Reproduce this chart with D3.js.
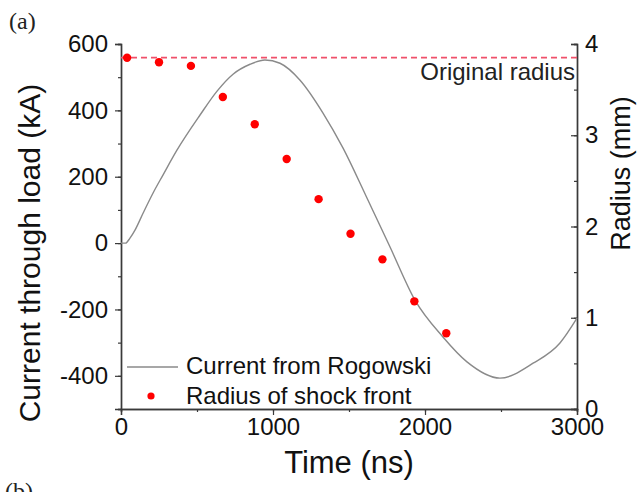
<!DOCTYPE html>
<html>
<head>
<meta charset="utf-8">
<script src="https://cdn.jsdelivr.net/npm/d3@7"></script>
<style>
  body { margin: 0; background: #fff; }
  svg { display: block; font-family: 'Liberation Sans', Arial, sans-serif; }
</style>
</head>
<body>
<svg id="chart" width="643" height="492"></svg>
<script>
// Rogowski current trace
var timeNs = [0, 30, 59, 92, 145, 211, 276, 368, 520, 632, 737, 849, 947, 1046, 1178, 1329, 1461, 1612,
  1770, 1934, 2118, 2276, 2493, 2711, 2888, 3000];
var currentKA = [0, 0, 15, 39, 90, 151, 205, 280, 386, 458, 509, 539, 552, 542, 491, 392, 286, 142,
  -12, -172, -283, -358, -407, -362, -301, -226];

// shock front radius
var shockTime = [40, 250, 460, 670, 880, 1090, 1300, 1510, 1720, 1930, 2140];
var shockRadius = [3.85, 3.80, 3.76, 3.42, 3.12, 2.74, 2.30, 1.92, 1.64, 1.18, 0.83];

var originalRadius = 3.85;

var xTicks = [0, 1000, 2000, 3000];
var yTicks = [-400, -200, 0, 200, 400, 600];
var rTicks = [0, 1, 2, 3, 4];

var svg = d3.select('#chart');

var margin = {top: 44, right: 66, bottom: 83, left: 121};
var width = 643 - margin.left - margin.right;
var height = 492 - margin.top - margin.bottom;

var x = d3.scaleLinear().domain([0, 3000]).range([margin.left, margin.left + width]);
var y = d3.scaleLinear().domain([-500, 600]).range([margin.top + height, margin.top]);
var r = d3.scaleLinear().domain([0, 4]).range([margin.top + height, margin.top]);

var axisColor = '#3a3a3a';
var tickFont = 24;
var fmt = function(d) { return String(d); };

// minor ticks
function minor(scale, step) {
  var d = scale.domain(), out = [];
  for (var v = d[0]; v <= d[1] + 1e-9; v += step) out.push(+v.toFixed(6));
  return out;
}

// Bottom axis
var gx = svg.append('g').attr('transform', 'translate(0,' + (margin.top + height) + ')');
gx.call(d3.axisBottom(x).tickValues(minor(x, 500)).tickSize(3).tickFormat(''));
gx.append('g').call(d3.axisBottom(x).tickValues(xTicks).tickSize(6).tickPadding(3).tickFormat(fmt));

// Left axis
var gy = svg.append('g').attr('transform', 'translate(' + margin.left + ',0)');
gy.call(d3.axisLeft(y).tickValues(minor(y, 100)).tickSize(3).tickFormat(''));
gy.append('g').call(d3.axisLeft(y).tickValues(yTicks).tickSize(6).tickPadding(7).tickFormat(fmt));

// Right axis, ticks point inward
var gr = svg.append('g').attr('transform', 'translate(' + (margin.left + width) + ',0)');
gr.call(d3.axisRight(r).tickValues(minor(r, 0.5)).tickSize(-3).tickFormat(''));
gr.append('g').call(d3.axisRight(r).tickValues(rTicks).tickSize(-6).tickPadding(8).tickFormat(fmt));

svg.selectAll('.domain').attr('stroke', axisColor).attr('stroke-width', 1.4);
svg.selectAll('.tick line').attr('stroke', axisColor).attr('stroke-width', 1.2);
svg.selectAll('.tick text').attr('fill', '#111').style('font-size', tickFont + 'px')
  .style('font-family', "'Liberation Sans', Arial, sans-serif");

// Axis titles
svg.append('text')
  .attr('x', (x(0) + x(3000)) / 2).attr('y', 473)
  .attr('text-anchor', 'middle').style('font-size', '31px').attr('fill', '#111')
  .text('Time (ns)');

svg.append('text')
  .attr('transform', 'translate(40,' + y(-30) + ') rotate(-90)')
  .attr('text-anchor', 'middle').style('font-size', '30px').attr('fill', '#111')
  .text('Current through load (kA)');

svg.append('text')
  .attr('transform', 'translate(630,' + r(2.58) + ') rotate(-90)')
  .attr('text-anchor', 'middle').style('font-size', '27px').attr('fill', '#111')
  .text('Radius (mm)');

// Original radius line
svg.append('line')
  .attr('x1', x(0)).attr('x2', x(3000))
  .attr('y1', r(originalRadius)).attr('y2', r(originalRadius))
  .attr('stroke', '#f0506a').attr('stroke-width', 1.8).attr('stroke-dasharray', '6,4');

svg.append('text')
  .attr('x', x(3000) - 2).attr('y', 80)
  .attr('text-anchor', 'end').style('font-size', '24px').attr('fill', '#222')
  .text('Original radius');

// Current trace
var trace = timeNs.map(function(t, i) { return {t: t, v: currentKA[i]}; });
var line = d3.line()
  .x(function(d) { return x(d.t); })
  .y(function(d) { return y(d.v); })
  .curve(d3.curveMonotoneX);

svg.append('path')
  .datum(trace)
  .attr('fill', 'none')
  .attr('stroke', '#8a8a8a')
  .attr('stroke-width', 1.4)
  .attr('d', line);

// Shock front points
svg.selectAll('circle.shock')
  .data(shockTime.map(function(t, i) { return {t: t, v: shockRadius[i]}; }))
  .enter().append('circle')
  .attr('class', 'shock')
  .attr('cx', function(d) { return x(d.t); })
  .attr('cy', function(d) { return r(d.v); })
  .attr('r', 4.2)
  .attr('fill', '#f00');

// Legend
var lg = svg.append('g');
lg.append('line').attr('x1', 127).attr('x2', 178).attr('y1', 367).attr('y2', 367)
  .attr('stroke', '#8a8a8a').attr('stroke-width', 1.4);
lg.append('text').attr('x', 186).attr('y', 374).style('font-size', '24px').attr('fill', '#111')
  .text('Current from Rogowski');
lg.append('circle').attr('cx', 151).attr('cy', 396).attr('r', 3.6).attr('fill', '#f00');
lg.append('text').attr('x', 186).attr('y', 404).style('font-size', '24px').attr('fill', '#111')
  .text('Radius of shock front');

// panel labels
svg.append('text').attr('x', 9).attr('y', 29)
  .style('font-family', "'Liberation Serif', 'Times New Roman', serif").style('font-size', '24px')
  .attr('fill', '#222').text('(a)');
svg.append('text').attr('x', 5).attr('y', 499)
  .style('font-family', "'Liberation Serif', 'Times New Roman', serif").style('font-size', '24px')
  .attr('fill', '#222').text('(b)');
</script>
</body>
</html>
